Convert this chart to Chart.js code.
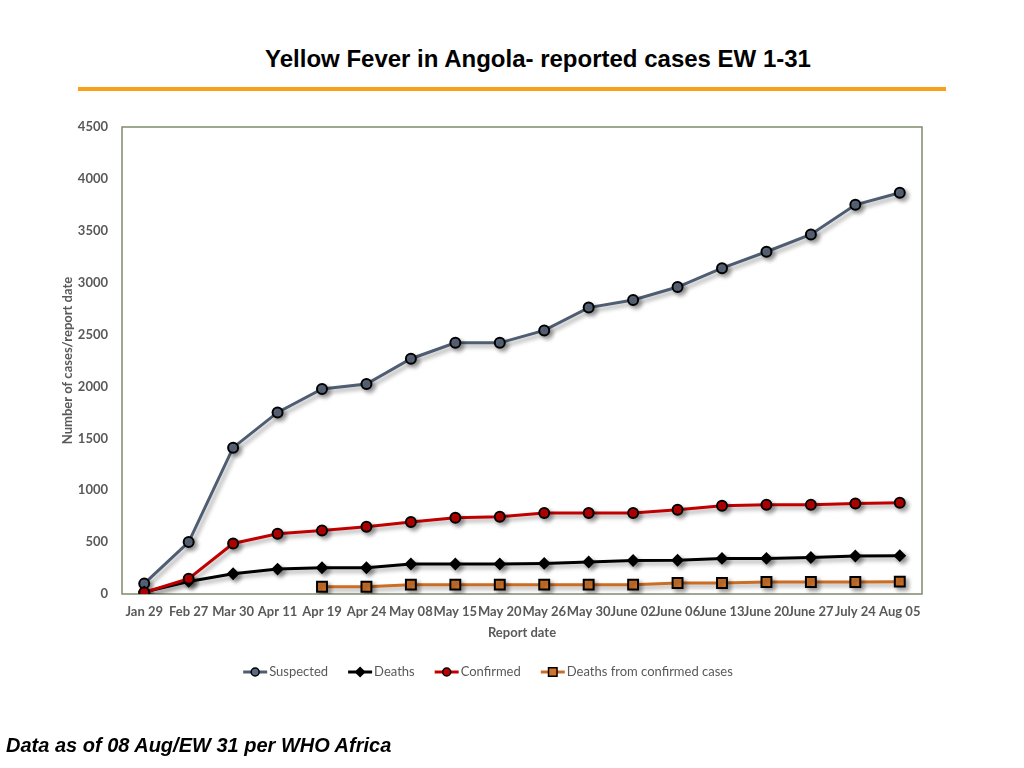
<!DOCTYPE html>
<html>
<head>
<meta charset="utf-8">
<title>Yellow Fever in Angola</title>
<script src="https://cdn.jsdelivr.net/npm/chart.js@4.4.1/dist/chart.umd.min.js"></script>
<style>
  html, body { margin: 0; padding: 0; background: #fff; }
  #wrap { position: relative; width: 1024px; height: 768px; overflow: hidden; }
  #chart { position: absolute; left: 0; top: 0; }
  .title {
    position: absolute; left: 0; top: 45px; width: 1076px; text-align: center;
    font: bold 24px "Liberation Sans", Arial, sans-serif; line-height: 28px; color: #000;
  }
  .rule { position: absolute; left: 78px; top: 87px; width: 868px; height: 4px; background: #f7a11b; }
  .note {
    position: absolute; left: 6px; top: 733px;
    font: italic bold 20px "Liberation Sans", Arial, sans-serif; line-height: 24px; color: #000;
  }
</style>
</head>
<body>
<div id="wrap">
  <div class="title">Yellow Fever in Angola- reported cases EW 1-31</div>
  <div class="rule"></div>
  <canvas id="chart" width="1024" height="768"></canvas>
  <div class="note">Data as of 08 Aug/EW 31 per WHO Africa</div>
</div>
<script>
// report dates (x axis)
var dates = ['Jan 29', 'Feb 27', 'Mar 30', 'Apr 11', 'Apr 19', 'Apr 24', 'May 08', 'May 15', 'May 20',
  'May 26', 'May 30', 'June 02', 'June 06', 'June 13', 'June 20', 'June 27', 'July 24', 'Aug 05'];

// values
var suspected = [100, 500, 1410, 1750, 1975, 2023, 2267, 2420, 2420, 2540, 2760, 2833, 2958, 3140, 3298, 3465, 3750, 3867];
var deaths = [20, 121, 195, 240, 253, 253, 289, 289, 289, 295, 308, 323, 325, 343, 343, 352, 366, 369];
var confirmed = [15, 147, 487, 580, 612, 648, 693, 734, 744, 780, 780, 780, 811, 850, 860, 860, 872, 879];
var deathsConfirmed = [null, null, null, null, 70, 70, 90, 90, 90, 90, 90, 90, 106, 106, 115, 115, 115, 119];

var yTicks = [0, 4500, 500]; // min, max, step

var gray = '#595959';

// frame around plot area + drop shadow on the series
var framePlugin = {
  id: 'frame',
  beforeDatasetsDraw: function(chart) {
    var ctx = chart.ctx, a = chart.chartArea;
    ctx.save();
    ctx.strokeStyle = '#7d8b6d';
    ctx.lineWidth = 1.5;
    ctx.strokeRect(a.left, a.top, a.right - a.left, a.bottom - a.top);
    ctx.restore();
    ctx.save();
    ctx.shadowColor = 'rgba(0,0,0,0.35)';
    ctx.shadowBlur = 4;
    ctx.shadowOffsetX = 3;
    ctx.shadowOffsetY = 3;
  },
  afterDatasetsDraw: function(chart) {
    chart.ctx.restore();
  }
};

// excel style legend: short line with the marker on it
var legendPlugin = {
  id: 'lineLegend',
  afterDraw: function(chart) {
    var ctx = chart.ctx;
    var sets = chart.data.datasets;
    var sampleW = 24, textGap = 2, itemGap = 20;
    var cx = 488, y = 672;
    ctx.save();
    ctx.font = '13px Lato, "Open Sans", sans-serif';
    ctx.textBaseline = 'middle';
    var widths = sets.map(function(ds) { return sampleW + textGap + ctx.measureText(ds.label).width; });
    var total = widths.reduce(function(s, w) { return s + w; }, 0) + itemGap * (sets.length - 1);
    var x = cx - total / 2;
    sets.forEach(function(ds, i) {
      ctx.strokeStyle = ds.borderColor;
      ctx.lineWidth = 3;
      ctx.beginPath();
      ctx.moveTo(x, y);
      ctx.lineTo(x + sampleW, y);
      ctx.stroke();

      ctx.fillStyle = ds.pointBackgroundColor;
      ctx.strokeStyle = ds.pointBorderColor;
      ctx.lineWidth = 1.5;
      var r = ds.legendRadius;
      if (Chart.helpers && Chart.helpers.drawPoint) {
        Chart.helpers.drawPoint(ctx, { pointStyle: ds.pointStyle, rotation: 0, radius: r, borderWidth: 1.5 }, x + sampleW / 2, y);
      } else {
        ctx.beginPath();
        ctx.arc(x + sampleW / 2, y, r, 0, Math.PI * 2);
        ctx.fill();
        ctx.stroke();
      }

      ctx.fillStyle = gray;
      ctx.fillText(ds.label, x + sampleW + textGap, y);
      x += widths[i] + itemGap;
    });
    ctx.restore();
  }
};

var tickFont = { family: 'Lato', size: 13, weight: 'bold' };

var ctx = document.getElementById('chart').getContext('2d');
var myChart = new Chart(ctx, {
  type: 'line',
  data: {
    labels: dates,
    datasets: [{
      label: 'Suspected',
      data: suspected,
      borderColor: '#4f5d72',
      pointBackgroundColor: '#5d6a7e',
      pointBorderColor: '#000',
      pointStyle: 'circle',
      pointRadius: 5,
      legendRadius: 4,
      order: 4
    }, {
      label: 'Deaths',
      data: deaths,
      borderColor: '#000',
      pointBackgroundColor: '#000',
      pointBorderColor: '#000',
      pointStyle: 'rectRot',
      pointRadius: 5,
      legendRadius: 4.5,
      order: 3
    }, {
      label: 'Confirmed',
      data: confirmed,
      borderColor: '#c00000',
      pointBackgroundColor: '#c00000',
      pointBorderColor: '#000',
      pointStyle: 'circle',
      pointRadius: 5,
      legendRadius: 4,
      order: 2
    }, {
      label: 'Deaths from confirmed cases',
      data: deathsConfirmed,
      borderColor: '#cc6d24',
      pointBackgroundColor: '#d2752b',
      pointBorderColor: '#000',
      pointStyle: 'rect',
      pointRadius: 7,
      legendRadius: 6,
      order: 1
    }]
  },
  options: {
    responsive: false,
    animation: false,
    devicePixelRatio: 1,
    layout: { padding: { top: 127, right: 102, bottom: 124, left: 0 } },
    elements: {
      line: { borderWidth: 3, tension: 0 },
      point: { borderWidth: 2, hoverRadius: 6 }
    },
    plugins: {
      legend: { display: false },
      tooltip: { enabled: false }
    },
    scales: {
      x: {
        offset: true,
        grid: { display: false, drawTicks: false },
        border: { display: false },
        ticks: {
          autoSkip: false, maxRotation: 0, minRotation: 0, padding: 10,
          color: gray, font: tickFont
        },
        title: {
          display: true, text: 'Report date', color: gray,
          padding: { top: 0, bottom: 3 },
          font: tickFont
        },
        afterFit: function(scale) { scale.height = 50; }
      },
      y: {
        min: yTicks[0], max: yTicks[1],
        grid: { display: false, drawTicks: false },
        border: { display: false },
        ticks: {
          stepSize: yTicks[2], padding: 14,
          color: gray, font: tickFont,
          callback: function(v) { return String(v); }
        },
        title: {
          display: true, text: 'Number of cases/report date', color: gray,
          padding: 60,
          font: tickFont
        },
        afterFit: function(scale) { scale.width = 122; }
      }
    }
  },
  plugins: [framePlugin, legendPlugin]
});
</script>
</body>
</html>
